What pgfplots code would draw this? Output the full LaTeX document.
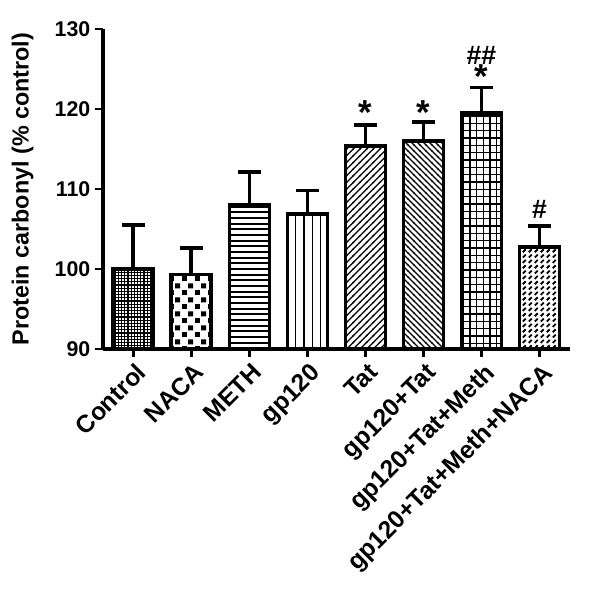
\documentclass[border=0pt]{standalone}
\usepackage{fontspec}
\setmainfont{Liberation Sans}
\usepackage{pgfplots}
\pgfplotsset{compat=1.18}
\usetikzlibrary{patterns}

% fine dot grid (Control)
\pgfdeclarepatternformonly{finechecks}{\pgfqpoint{-1pt}{-1pt}}{\pgfqpoint{3.4pt}{3.4pt}}{\pgfqpoint{2.4pt}{2.4pt}}{
  \pgfsetlinewidth{0.95pt}
  \pgfpathmoveto{\pgfqpoint{0pt}{-1pt}}\pgfpathlineto{\pgfqpoint{0pt}{3.4pt}}
  \pgfpathmoveto{\pgfqpoint{-1pt}{0pt}}\pgfpathlineto{\pgfqpoint{3.4pt}{0pt}}
  \pgfusepath{stroke}}
% coarse checker (NACA)
\pgfdeclarepatternformonly{bigchecks}{\pgfpointorigin}{\pgfqpoint{9.75pt}{10.5pt}}{\pgfqpoint{9.75pt}{10.5pt}}{
  \pgfpathrectangle{\pgfpointorigin}{\pgfqpoint{3.9pt}{3.9pt}}
  \pgfpathrectangle{\pgfqpoint{4.875pt}{5.25pt}}{\pgfqpoint{3.9pt}{3.9pt}}
  \pgfusepath{fill}}
% horizontal lines (METH)
\pgfdeclarepatternformonly{hlines}{\pgfqpoint{-1pt}{-1pt}}{\pgfqpoint{5.25pt}{5.25pt}}{\pgfqpoint{4.25pt}{4.25pt}}{
  \pgfsetlinewidth{1.4pt}
  \pgfpathmoveto{\pgfqpoint{-1pt}{2pt}}\pgfpathlineto{\pgfqpoint{5.25pt}{2pt}}
  \pgfusepath{stroke}}
% vertical lines (gp120)
\pgfdeclarepatternformonly{vlines}{\pgfqpoint{-1pt}{-1pt}}{\pgfqpoint{7.25pt}{7.25pt}}{\pgfqpoint{6.25pt}{6.25pt}}{
  \pgfsetlinewidth{1.2pt}
  \pgfpathmoveto{\pgfqpoint{3pt}{-1pt}}\pgfpathlineto{\pgfqpoint{3pt}{7.25pt}}
  \pgfusepath{stroke}}
% north east lines (Tat)
\pgfdeclarepatternformonly{nelines}{\pgfqpoint{-1pt}{-1pt}}{\pgfqpoint{6pt}{6pt}}{\pgfqpoint{5pt}{5pt}}{
  \pgfsetlinewidth{0.9pt}
  \pgfpathmoveto{\pgfqpoint{-0.5pt}{-0.5pt}}\pgfpathlineto{\pgfqpoint{5.5pt}{5.5pt}}
  \pgfusepath{stroke}}
% north west lines (gp120+Tat)
\pgfdeclarepatternformonly{nwlines}{\pgfqpoint{-1pt}{-1pt}}{\pgfqpoint{5.5pt}{5.5pt}}{\pgfqpoint{4.5pt}{4.5pt}}{
  \pgfsetlinewidth{0.9pt}
  \pgfpathmoveto{\pgfqpoint{-0.5pt}{5pt}}\pgfpathlineto{\pgfqpoint{5pt}{-0.5pt}}
  \pgfusepath{stroke}}
% grid (gp120+Tat+Meth)
\pgfdeclarepatternformonly{sqgrid}{\pgfqpoint{-1pt}{-1pt}}{\pgfqpoint{6pt}{6.5pt}}{\pgfqpoint{5pt}{5.5pt}}{
  \pgfsetlinewidth{1pt}
  \pgfpathmoveto{\pgfqpoint{2.5pt}{-1pt}}\pgfpathlineto{\pgfqpoint{2.5pt}{6.5pt}}
  \pgfpathmoveto{\pgfqpoint{-1pt}{2.75pt}}\pgfpathlineto{\pgfqpoint{6pt}{2.75pt}}
  \pgfusepath{stroke}}
% short diagonal dashes (gp120+Tat+Meth+NACA)
\pgfdeclarepatternformonly{dashdiag}{\pgfqpoint{-1pt}{-1pt}}{\pgfqpoint{5.5pt}{5pt}}{\pgfqpoint{4.5pt}{4pt}}{
  \pgfsetlinewidth{1.4pt}
  \pgfpathmoveto{\pgfqpoint{0.6pt}{0.6pt}}\pgfpathlineto{\pgfqpoint{2.8pt}{2.8pt}}
  \pgfusepath{stroke}}

\begin{document}
\begin{tikzpicture}
\path (-77.25pt,-180pt) rectangle (372.75pt,261.75pt);
\begin{axis}[
  scale only axis, width=350pt, height=240pt,
  xmin=-0.52, xmax=7.52, ymin=90, ymax=130,
  axis lines*=left, axis line style={line width=2.4pt, -},
  axis on top,
  ybar, bar width=30pt, bar shift=0pt,
  xtick={0,...,7},
  xticklabels={Control,NACA,METH,gp120,Tat,gp120+Tat,gp120+Tat+Meth,gp120+Tat+Meth+NACA},
  ytick={90,100,...,130},
  tick align=outside, major tick length=6pt,
  tick style={line width=2pt, black},
  /pgf/number format/assume math mode=true,
  ticklabel style={font=\bfseries\fontsize{16}{18}\selectfont},
  xticklabel style={rotate=45, anchor=north east, xshift=2pt, font=\bfseries\fontsize{18.5}{20}\selectfont},
  ylabel={Protein carbonyl (\% control)},
  ylabel shift=9pt,
  ylabel style={font=\bfseries\fontsize{17.5}{20}\selectfont},
  every axis plot/.append style={draw=black, line width=2.6pt},
  error bars/y dir=plus, error bars/y explicit,
  error bars/error bar style={line width=2.6pt, black},
  error bars/error mark options={rotate=90, mark size=8.5pt, line width=2.6pt, black},
]
\addplot[pattern=finechecks] coordinates {(0,100) +- (0,5.5)};
\addplot[pattern=bigchecks] coordinates {(1,99.3) +- (0,3.3)};
\addplot[pattern=hlines] coordinates {(2,108) +- (0,4.1)};
\addplot[pattern=vlines] coordinates {(3,106.9) +- (0,2.9)};
\addplot[pattern=nelines] coordinates {(4,115.4) +- (0,2.6)};
\addplot[pattern=nwlines] coordinates {(5,116.0) +- (0,2.4)};
\addplot[pattern=sqgrid] coordinates {(6,119.5) +- (0,3.2)};
\addplot[pattern=dashdiag] coordinates {(7,102.75) +- (0,2.65)};
\node[font=\bfseries\fontsize{26}{26}\selectfont] at (axis cs:4,119.6) {*};
\node[font=\bfseries\fontsize{26}{26}\selectfont] at (axis cs:5,119.6) {*};
\node[font=\bfseries\fontsize{26}{26}\selectfont] at (axis cs:6,124.1) {*};
\node[font=\bfseries\fontsize{20}{20}\selectfont] at (axis cs:6,126.75) {\#\#};
\node[font=\bfseries\fontsize{20}{20}\selectfont] at (axis cs:7,107.4) {\#};
\end{axis}
\end{tikzpicture}
\end{document}
